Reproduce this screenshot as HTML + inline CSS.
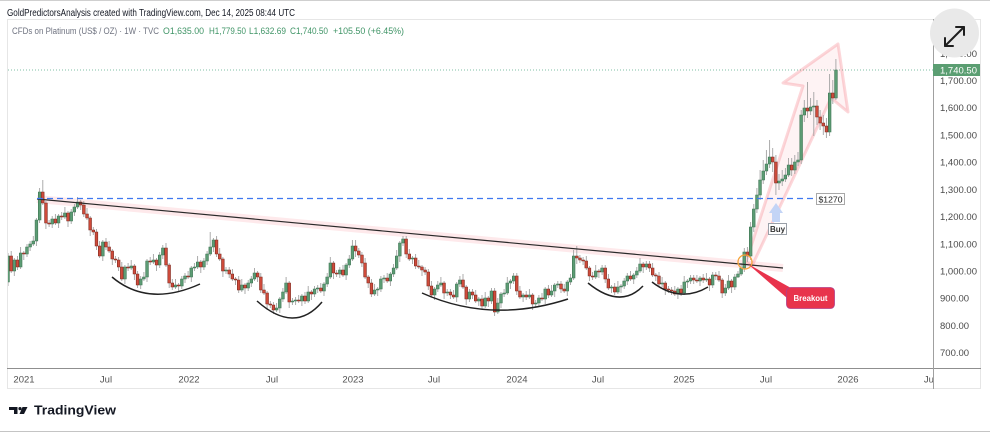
<!DOCTYPE html>
<html><head><meta charset="utf-8">
<style>
html,body{margin:0;padding:0;background:#fff;overflow:hidden;}
svg{display:block;font-family:"Liberation Sans",sans-serif;}
</style></head><body>
<svg width="990" height="432" viewBox="0 0 990 432" xmlns="http://www.w3.org/2000/svg">
<defs>
<clipPath id="plot"><rect x="8" y="20" width="925" height="348"/></clipPath>
<clipPath id="taxis"><rect x="8" y="369" width="925" height="20"/></clipPath>
</defs>
<rect width="990" height="432" fill="#fff"/>
<line x1="0" y1="0.5" x2="990" y2="0.5" stroke="#cfcfcf"/>
<line x1="0" y1="431.5" x2="990" y2="431.5" stroke="#c4c4c4"/>
<text x="7" y="16" font-size="10" fill="#131722" textLength="288" lengthAdjust="spacingAndGlyphs">GoldPredictorsAnalysis created with TradingView.com, Dec 14, 2025 08:44 UTC</text>

<rect x="7.5" y="19.5" width="973" height="369" fill="none" stroke="#e6e6e6"/>
<line x1="7" y1="368.5" x2="981" y2="368.5" stroke="#8f8f8f"/>
<line x1="933.5" y1="19" x2="933.5" y2="389" stroke="#a0a0a0"/>

<text x="12" y="34" font-size="9" fill="#6f7380" textLength="147" lengthAdjust="spacingAndGlyphs">CFDs on Platinum (US$ / OZ) · 1W · TVC</text>
<g font-size="9" fill="#3f9466">
<text x="163" y="34" textLength="41" lengthAdjust="spacingAndGlyphs">O1,635.00</text>
<text x="209" y="34" textLength="37" lengthAdjust="spacingAndGlyphs">H1,779.50</text>
<text x="249" y="34" textLength="37" lengthAdjust="spacingAndGlyphs">L1,632.69</text>
<text x="290" y="34" textLength="38" lengthAdjust="spacingAndGlyphs">C1,740.50</text>
<text x="333" y="34" textLength="71" lengthAdjust="spacingAndGlyphs">+105.50 (+6.45%)</text>
</g>

<line x1="8" y1="70" x2="933" y2="70" stroke="#7fbfa6" stroke-width="1" stroke-dasharray="1 2"/>

<g clip-path="url(#plot)">
<polygon points="746,262 803,86 783,83 838,44 848,112 831,98 752,266" fill="rgba(242,54,69,0.06)" stroke="rgba(242,54,69,0.2)" stroke-width="3" stroke-linejoin="round"/>
<line x1="37" y1="199" x2="783" y2="268" stroke="rgba(242,54,69,0.11)" stroke-width="8"/>

<path fill="none" stroke="#a3a3a3" stroke-width="0.9" d="M8 253V286M11.2 251V273M14.3 258V276M17.5 256V270M20.6 247V269M23.8 251V260M27 244V257M30.1 241V251M33.3 236V246M36.4 218V246M39.6 188V223M42.8 180V205M45.9 201V229M49.1 220V227M52.2 216V228M55.4 214V225M58.6 214V228M61.7 212V220M64.9 207V219M68 211V227M71.2 209V224M74.4 204V216M77.5 197V209M80.7 200V210M83.8 201V217M87 208V220M90.2 216V236M93.3 227V235M96.5 229V250M99.6 241V258M102.8 240V261M106 238V250M109.1 241V253M112.3 249V265M115.4 256V263M118.6 257V271M121.8 262V281M124.9 265V284M128.1 263V271M131.2 260V270M134.4 264V280M137.6 271V288M140.7 276V289M143.9 272V281M147 259V282M150.2 257V265M153.4 254V264M156.5 258V271M159.7 252V268M162.8 245V259M166 243V267M169.2 263V288M172.3 279V290M175.5 279V289M178.6 283V292M181.8 276V289M185 273V283M188.1 271V279M191.3 266V282M194.4 263V271M197.6 256V269M200.8 260V273M203.9 258V270M207.1 251V265M210.2 232V256M213.4 238V252M216.6 236V257M219.7 248V261M222.9 257V277M226 267V274M229.2 267V278M232.4 269V281M235.5 277V285M238.7 276V293M241.8 279V292M245 283V294M248.2 280V291M251.3 276V287M254.5 268V281M257.6 271V282M260.8 273V293M264 284V295M267.1 291V310M270.3 301V308M273.4 302V314M276.6 303V312M279.8 297V313M282.9 288V302M286.1 277V294M289.2 281V308M292.4 298V305M295.6 297V305M298.7 295V303M301.9 294V306M305 292V304M308.2 286V303M311.4 290V300M314.5 286V297M317.7 285V293M320.8 283V293M324 282V296M327.2 273V287M330.3 257V279M333.5 261V279M336.6 270V277M339.8 267V278M343 265V277M346.1 263V280M349.3 255V268M352.4 240V261M355.6 240V257M358.8 248V258M361.9 252V267M365.1 258V279M368.2 275V288M371.4 279V297M374.6 284V296M377.7 287V296M380.9 276V292M384 275V283M387.2 273V283M390.4 272V286M393.5 264V277M396.7 250V270M399.8 241V262M403 236V246M406.2 236V258M409.3 249V261M412.5 256V264M415.6 254V269M418.8 260V269M422 265V276M425.1 267V275M428.3 269V290M431.4 281V297M434.6 287V300M437.8 281V292M440.9 277V287M444.1 281V299M447.2 289V296M450.4 289V299M453.6 290V299M456.7 282V302M459.9 276V287M463 274V289M466.2 285V305M469.4 289V302M472.5 289V299M475.7 290V303M478.8 297V306M482 295V309M485.2 292V308M488.3 296V307M491.5 288V304M494.6 288V316M497.8 298V314M501 292V308M504.1 289V297M507.3 277V295M510.4 279V289M513.6 273V284M516.8 273V295M519.9 286V299M523.1 293V302M526.2 291V300M529.4 289V299M532.6 293V310M535.7 300V307M538.9 295V307M542 293V301M545.2 287V304M548.4 285V298M551.5 285V297M554.7 283V297M557.8 281V288M561 281V293M564.2 284V293M567.3 280V296M570.5 274V285M573.6 250V280M576.8 246V264M579.9 255V263M583.1 257V265M586.3 256V270M589.4 266V281M592.6 272V280M595.7 265V279M598.9 269V278M602.1 265V275M605.2 265V283M608.4 274V290M611.5 285V293M614.7 283V295M617.9 281V294M621 284V293M624.2 278V289M627.3 273V285M630.5 271V281M633.7 273V284M636.8 267V278M640 258V273M643.2 262V273M646.3 261V270M649.5 261V272M652.6 263V277M655.8 273V281M659 272V287M662.1 277V287M665.3 281V295M668.4 286V293M671.6 287V295M674.8 286V296M677.9 287V299M681.1 285V296M684.2 276V295M687.4 279V288M690.6 275V284M693.7 275V284M696.9 275V283M700 276V286M703.2 274V283M706.4 273V282M709.5 277V291M712.7 272V288M715.8 272V280M719 271V282M722.2 278V298M725.3 284V296M728.5 275V290M731.6 279V293M734.8 274V290M738 271V278M741.1 263V276M744.3 248V272M747.4 247V262M750.6 222V260M753.8 204V232M756.9 188V213M760.1 170V200M763.2 160V184M766.4 150V175M769.6 140V168M772.7 148V172M775.9 155V195M779 174V190M782.2 170V186M785.4 168V182M788.5 158V177M791.7 158V176M794.8 155V174M798 152V166M801.2 110V164M804.3 100V122M807.5 82V118M810.6 98V115M813.8 92V136M817 100V125M820.1 110V130M823.3 115V135M826.4 118V138M829.6 74V136M832.8 80V104M835.9 59V100"/>

<path fill="#5c9c74" stroke="#3f7654" stroke-width="0.6" d="M6.7 256h2.7v26h-2.7zM13 260h2.7v11h-2.7zM19.3 253h2.7v14h-2.7zM25.6 247h2.7v7h-2.7zM28.8 244h2.7v3h-2.7zM31.9 241h2.7v3h-2.7zM35.1 220h2.7v21h-2.7zM38.3 192h2.7v28h-2.7zM50.9 219h2.7v5h-2.7zM57.2 216h2.7v7h-2.7zM63.5 213h2.7v4h-2.7zM69.9 212h2.7v9h-2.7zM73 207h2.7v5h-2.7zM76.2 202h2.7v5h-2.7zM101.5 242h2.7v14h-2.7zM123.6 267h2.7v12h-2.7zM129.9 266h2.7v2h-2.7zM139.4 279h2.7v6h-2.7zM142.5 277h2.7v2h-2.7zM145.7 261h2.7v16h-2.7zM152 260h2.7v2h-2.7zM158.3 255h2.7v10h-2.7zM161.5 248h2.7v7h-2.7zM174.1 285h2.7v2h-2.7zM180.5 279h2.7v7h-2.7zM183.6 276h2.7v3h-2.7zM189.9 268h2.7v9h-2.7zM193.1 267h2.7v1h-2.7zM196.3 262h2.7v5h-2.7zM202.6 261h2.7v6h-2.7zM205.7 254h2.7v7h-2.7zM208.9 247h2.7v7h-2.7zM212.1 240h2.7v7h-2.7zM224.7 270h2.7v1h-2.7zM240.5 285h2.7v5h-2.7zM246.8 283h2.7v5h-2.7zM250 279h2.7v4h-2.7zM253.1 273h2.7v6h-2.7zM275.3 308h2.7v2h-2.7zM278.4 299h2.7v9h-2.7zM281.6 292h2.7v7h-2.7zM284.7 283h2.7v9h-2.7zM291.1 301h2.7v1h-2.7zM294.2 300h2.7v1h-2.7zM300.5 296h2.7v5h-2.7zM306.9 292h2.7v9h-2.7zM313.2 289h2.7v5h-2.7zM316.3 288h2.7v1h-2.7zM322.7 284h2.7v7h-2.7zM325.8 277h2.7v7h-2.7zM329 263h2.7v14h-2.7zM338.5 270h2.7v4h-2.7zM344.8 265h2.7v10h-2.7zM347.9 259h2.7v6h-2.7zM351.1 246h2.7v13h-2.7zM373.2 290h2.7v4h-2.7zM376.4 289h2.7v1h-2.7zM379.5 279h2.7v10h-2.7zM382.7 278h2.7v1h-2.7zM389 274h2.7v7h-2.7zM392.2 268h2.7v6h-2.7zM395.3 256h2.7v12h-2.7zM398.5 243h2.7v13h-2.7zM401.7 239h2.7v4h-2.7zM411.1 258h2.7v1h-2.7zM433.3 289h2.7v6h-2.7zM436.4 285h2.7v4h-2.7zM439.6 283h2.7v2h-2.7zM445.9 292h2.7v1h-2.7zM455.4 284h2.7v13h-2.7zM458.5 280h2.7v4h-2.7zM468 292h2.7v7h-2.7zM477.5 299h2.7v2h-2.7zM483.8 298h2.7v8h-2.7zM490.1 291h2.7v10h-2.7zM496.5 303h2.7v9h-2.7zM499.6 294h2.7v9h-2.7zM502.8 293h2.7v1h-2.7zM505.9 283h2.7v10h-2.7zM509.1 281h2.7v2h-2.7zM512.3 276h2.7v5h-2.7zM521.7 295h2.7v2h-2.7zM528.1 295h2.7v2h-2.7zM534.4 303h2.7v1h-2.7zM537.5 298h2.7v5h-2.7zM543.9 289h2.7v10h-2.7zM550.2 291h2.7v4h-2.7zM553.3 285h2.7v6h-2.7zM556.5 284h2.7v1h-2.7zM566 282h2.7v9h-2.7zM569.1 278h2.7v4h-2.7zM572.3 256h2.7v22h-2.7zM594.4 271h2.7v6h-2.7zM600.7 268h2.7v4h-2.7zM610.2 287h2.7v1h-2.7zM616.5 287h2.7v5h-2.7zM619.7 286h2.7v1h-2.7zM622.8 281h2.7v5h-2.7zM626 276h2.7v5h-2.7zM632.3 275h2.7v4h-2.7zM635.5 271h2.7v4h-2.7zM638.7 264h2.7v7h-2.7zM645 264h2.7v3h-2.7zM660.8 283h2.7v1h-2.7zM676.6 289h2.7v5h-2.7zM682.9 282h2.7v11h-2.7zM686.1 281h2.7v1h-2.7zM689.2 278h2.7v3h-2.7zM698.7 278h2.7v3h-2.7zM705 279h2.7v1h-2.7zM711.3 275h2.7v10h-2.7zM724 288h2.7v5h-2.7zM727.1 281h2.7v7h-2.7zM733.5 277h2.7v10h-2.7zM736.6 274h2.7v3h-2.7zM739.8 268h2.7v6h-2.7zM742.9 252h2.7v16h-2.7zM749.3 227h2.7v29h-2.7zM752.4 209h2.7v18h-2.7zM755.6 195h2.7v14h-2.7zM758.7 180h2.7v15h-2.7zM761.9 171h2.7v9h-2.7zM765.1 164h2.7v7h-2.7zM768.2 157h2.7v7h-2.7zM777.7 181h2.7v2h-2.7zM780.9 179h2.7v2h-2.7zM784 175h2.7v4h-2.7zM787.2 165h2.7v10h-2.7zM793.5 162h2.7v8h-2.7zM796.7 160h2.7v2h-2.7zM799.8 115h2.7v45h-2.7zM803 108h2.7v7h-2.7zM809.3 107h2.7v4h-2.7zM812.5 106h2.7v1h-2.7zM828.3 93h2.7v39h-2.7zM834.6 70h2.7v28h-2.7z"/>

<path fill="#cf4b3b" stroke="#7d2a20" stroke-width="0.6" d="M9.8 256h2.7v15h-2.7zM16.1 260h2.7v7h-2.7zM22.5 253h2.7v1h-2.7zM41.4 192h2.7v11h-2.7zM44.6 203h2.7v20h-2.7zM47.7 223h2.7v1h-2.7zM54.1 219h2.7v4h-2.7zM60.4 216h2.7v1h-2.7zM66.7 213h2.7v8h-2.7zM79.3 202h2.7v3h-2.7zM82.5 205h2.7v9h-2.7zM85.7 214h2.7v4h-2.7zM88.8 218h2.7v12h-2.7zM92 230h2.7v2h-2.7zM95.1 232h2.7v14h-2.7zM98.3 246h2.7v10h-2.7zM104.6 242h2.7v5h-2.7zM107.8 247h2.7v4h-2.7zM110.9 251h2.7v8h-2.7zM114.1 259h2.7v1h-2.7zM117.3 260h2.7v7h-2.7zM120.4 267h2.7v12h-2.7zM126.7 267h2.7v1h-2.7zM133.1 266h2.7v8h-2.7zM136.2 274h2.7v11h-2.7zM148.9 261h2.7v1h-2.7zM155.2 260h2.7v5h-2.7zM164.7 248h2.7v17h-2.7zM167.8 265h2.7v18h-2.7zM171 283h2.7v4h-2.7zM177.3 285h2.7v1h-2.7zM186.8 276h2.7v1h-2.7zM199.4 262h2.7v5h-2.7zM215.2 240h2.7v14h-2.7zM218.4 254h2.7v5h-2.7zM221.5 259h2.7v12h-2.7zM227.9 270h2.7v4h-2.7zM231 274h2.7v5h-2.7zM234.2 279h2.7v1h-2.7zM237.3 280h2.7v10h-2.7zM243.7 285h2.7v3h-2.7zM256.3 273h2.7v4h-2.7zM259.5 277h2.7v13h-2.7zM262.6 290h2.7v3h-2.7zM265.8 293h2.7v11h-2.7zM268.9 304h2.7v1h-2.7zM272.1 305h2.7v5h-2.7zM287.9 283h2.7v19h-2.7zM297.4 300h2.7v1h-2.7zM303.7 296h2.7v5h-2.7zM310 292h2.7v2h-2.7zM319.5 288h2.7v3h-2.7zM332.1 263h2.7v10h-2.7zM335.3 273h2.7v1h-2.7zM341.6 270h2.7v5h-2.7zM354.3 246h2.7v5h-2.7zM357.4 251h2.7v4h-2.7zM360.6 255h2.7v8h-2.7zM363.7 263h2.7v14h-2.7zM366.9 277h2.7v6h-2.7zM370.1 283h2.7v11h-2.7zM385.9 278h2.7v3h-2.7zM404.8 239h2.7v15h-2.7zM408 254h2.7v5h-2.7zM414.3 258h2.7v8h-2.7zM417.5 266h2.7v1h-2.7zM420.6 267h2.7v3h-2.7zM423.8 270h2.7v2h-2.7zM426.9 272h2.7v14h-2.7zM430.1 286h2.7v9h-2.7zM442.7 283h2.7v10h-2.7zM449.1 292h2.7v3h-2.7zM452.2 295h2.7v2h-2.7zM461.7 280h2.7v7h-2.7zM464.9 287h2.7v12h-2.7zM471.2 292h2.7v3h-2.7zM474.3 295h2.7v6h-2.7zM480.7 299h2.7v7h-2.7zM487 298h2.7v3h-2.7zM493.3 291h2.7v21h-2.7zM515.4 276h2.7v15h-2.7zM518.6 291h2.7v6h-2.7zM524.9 295h2.7v2h-2.7zM531.2 295h2.7v9h-2.7zM540.7 298h2.7v1h-2.7zM547 289h2.7v6h-2.7zM559.7 284h2.7v5h-2.7zM562.8 289h2.7v2h-2.7zM575.5 256h2.7v2h-2.7zM578.6 258h2.7v2h-2.7zM581.8 260h2.7v1h-2.7zM584.9 261h2.7v7h-2.7zM588.1 268h2.7v8h-2.7zM591.3 276h2.7v1h-2.7zM597.6 271h2.7v1h-2.7zM603.9 268h2.7v11h-2.7zM607 279h2.7v9h-2.7zM613.4 287h2.7v5h-2.7zM629.2 276h2.7v3h-2.7zM641.8 264h2.7v3h-2.7zM648.1 264h2.7v4h-2.7zM651.3 268h2.7v7h-2.7zM654.5 275h2.7v1h-2.7zM657.6 276h2.7v8h-2.7zM663.9 283h2.7v6h-2.7zM667.1 289h2.7v1h-2.7zM670.3 290h2.7v1h-2.7zM673.4 291h2.7v3h-2.7zM679.7 289h2.7v4h-2.7zM692.4 278h2.7v2h-2.7zM695.5 280h2.7v1h-2.7zM701.9 278h2.7v2h-2.7zM708.2 279h2.7v6h-2.7zM714.5 275h2.7v1h-2.7zM717.7 276h2.7v4h-2.7zM720.8 280h2.7v13h-2.7zM730.3 281h2.7v6h-2.7zM746.1 252h2.7v4h-2.7zM771.4 157h2.7v5h-2.7zM774.5 162h2.7v21h-2.7zM790.3 165h2.7v5h-2.7zM806.1 108h2.7v3h-2.7zM815.6 106h2.7v11h-2.7zM818.8 117h2.7v6h-2.7zM821.9 123h2.7v3h-2.7zM825.1 126h2.7v6h-2.7zM831.4 93h2.7v5h-2.7z"/>

<line x1="37" y1="199" x2="783" y2="268" stroke="#2a2a2a" stroke-width="1.2"/>
<line x1="37" y1="198.5" x2="816" y2="198.5" stroke="#3f78f0" stroke-width="1.3" stroke-dasharray="6 4"/>
<g fill="none" stroke="#222" stroke-width="1.5">
<path d="M112,277 Q148,307.5 200,284"/>
<path d="M257,301 Q294.5,334.5 322,302"/>
<path d="M422,293 Q491,324 568,299"/>
<path d="M588,283 Q620.5,309.5 643,286"/>
<path d="M652,282 Q680,303.5 708,287"/>
</g>
<circle cx="745" cy="262" r="7" fill="none" stroke="#f5a33a" stroke-width="1.3"/>
<polygon points="776,203 783,213 780,213 780,222 772,222 772,213 769,213" fill="#c3d4f6"/>
<rect x="768.5" y="223.5" width="18" height="11" fill="#fff" stroke="#9aa0a8"/>
<text x="777.5" y="232" font-size="8" font-weight="bold" fill="#333" text-anchor="middle">Buy</text>
<rect x="816.5" y="193.5" width="28" height="11" fill="#fff" stroke="#a8a8a8"/>
<text x="830.5" y="202.3" font-size="8.6" fill="#222" text-anchor="middle" textLength="24" lengthAdjust="spacingAndGlyphs">$1270</text>
<polygon points="748,264 791,288 787,298" fill="#e8334c"/>
<rect x="786.5" y="287.5" width="48" height="21" rx="4" fill="#e8334c" stroke="#b2408a" stroke-width="0.8"/>
<text x="810.5" y="301" font-size="8.5" font-weight="bold" fill="#fff" text-anchor="middle" textLength="34" lengthAdjust="spacingAndGlyphs">Breakout</text>
</g>

<g font-size="9.5" fill="#4a4a4a">
<text x="940" y="57">1,800.00</text>
<text x="940" y="84">1,700.00</text>
<text x="940" y="111">1,600.00</text>
<text x="940" y="138.5">1,500.00</text>
<text x="940" y="165.7">1,400.00</text>
<text x="940" y="193">1,300.00</text>
<text x="940" y="220">1,200.00</text>
<text x="940" y="247.3">1,100.00</text>
<text x="940" y="274.5">1,000.00</text>
<text x="940" y="301.7">900.00</text>
<text x="940" y="329">800.00</text>
<text x="940" y="356">700.00</text>
</g>
<rect x="933" y="64" width="47" height="12" fill="#5b9e72"/>
<text x="940" y="73.5" font-size="9.5" fill="#fff">1,740.50</text>

<circle cx="954.5" cy="33" r="24.5" fill="#e9e9e9"/>
<g stroke="#1e1e1e" stroke-width="2" fill="none" stroke-linecap="round" stroke-linejoin="round">
<line x1="945" y1="46" x2="964" y2="27"/>
<polyline points="956,27 964,27 964,35"/>
<polyline points="945,38 945,46 953,46"/>
</g>

<g font-size="9.5" fill="#505050" text-anchor="middle" clip-path="url(#taxis)">
<text x="24" y="382.5">2021</text>
<text x="106" y="382.5">Jul</text>
<text x="189" y="382.5">2022</text>
<text x="272" y="382.5">Jul</text>
<text x="353" y="382.5">2023</text>
<text x="434" y="382.5">Jul</text>
<text x="517" y="382.5">2024</text>
<text x="598" y="382.5">Jul</text>
<text x="684" y="382.5">2025</text>
<text x="766" y="382.5">Jul</text>
<text x="848" y="382.5">2026</text>
<text x="930" y="382.5">Jul</text>
</g>

<g fill="#131722">
<rect x="9" y="407" width="8.5" height="3"/>
<rect x="14" y="407" width="3.5" height="7"/>
<circle cx="20" cy="408.6" r="1.6"/>
<polygon points="22.5,407 27.5,407 24,414 19.5,414"/>
</g>
<text x="34" y="414.5" font-size="12.5" font-weight="bold" fill="#131722" textLength="82" lengthAdjust="spacingAndGlyphs">TradingView</text>
</svg>
</body></html>
